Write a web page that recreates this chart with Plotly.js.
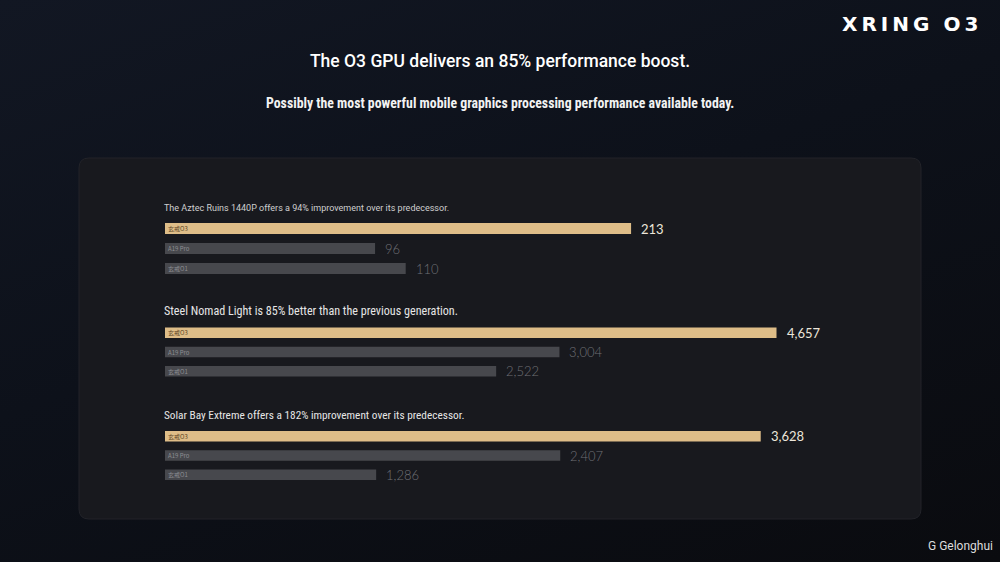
<!DOCTYPE html>
<html>
<head>
<meta charset="utf-8">
<script src="https://cdn.plot.ly/plotly-3.0.1.min.js"></script>
<style>
  html, body { margin: 0; padding: 0; width: 1000px; height: 562px; overflow: hidden;
    background: linear-gradient(160deg, #121723 0%, #0d111a 45%, #0a0b0f 100%); }
  #chart { width: 1000px; height: 562px; }
</style>
</head>
<body>
<div id="chart"></div>
<script>
// ---- data ----
const categories = ['玄戒O3', 'A19 Pro', '玄戒O1'];
const aztecRuins = [213, 96, 110];
const steelNomad = [4657, 3004, 2522];
const solarBay = [3628, 2407, 1286];
const panelTitles = [
  'The Aztec Ruins 1440P offers a 94% improvement over its predecessor.',
  'Steel Nomad Light is 85% better than the previous generation.',
  'Solar Bay Extreme offers a 182% improvement over its predecessor.'
];
const mainTitle = 'The O3 GPU delivers an 85% performance boost.';
const subTitle = 'Possibly the most powerful mobile graphics processing performance available today.';
const logoText = 'X\u2009R\u2009I\u2009N\u2009G\u2002\u2009O\u20093';
const watermark = 'G Gelonghui';

// ---- styling / layout ----
const W = 1000, H = 562;
const px = x => x / W;
const py = y => 1 - y / H;
const narrow = '"Liberation Sans Narrow", "Roboto Condensed", Roboto, sans-serif';
const panels = [
  {vals: aztecRuins, max: 319.9, top: 218.5, step: 20, title: 208, tfont: {family: 'Roboto, sans-serif', size: 9, color: '#cfcfcf'}},
  {vals: steelNomad, max: 5331, top: 322.75, step: 19.5, title: 311, tfont: {family: narrow, size: 12.1, color: '#e6e6e6'}},
  {vals: solarBay, max: 4263, top: 426.25, step: 19.5, title: 415, tfont: {family: narrow, size: 11.3, color: '#e6e6e6'}}
];
const barColors = ['#debd88', '#47484d', '#47484d'];
const innerText = ['#5a4424', '#8d8e93', '#8d8e93'];
const valueColors = ['#ece6da', '#6f7075', '#6f7075'];

const traces = [];
const annotations = [];
const layout = {
  width: W, height: H,
  margin: {l: 0, r: 0, t: 0, b: 0},
  paper_bgcolor: 'rgba(0,0,0,0)',
  plot_bgcolor: 'rgba(0,0,0,0)',
  showlegend: false,
  title: {text: mainTitle, x: 0.5, xanchor: 'center', y: py(61), yanchor: 'middle',
    font: {family: 'Roboto, sans-serif', size: 17.5, color: '#ffffff', weight: 500}},
  shapes: [],
  annotations: annotations
};

// card background (rounded rectangle in paper coords)
(function () {
  const x0 = px(79), x1 = px(921), y0 = py(519), y1 = py(158);
  const rx = 10 / W, ry = 10 / H;
  const path = `M ${x0 + rx},${y1} L ${x1 - rx},${y1} Q ${x1},${y1} ${x1},${y1 - ry} ` +
    `L ${x1},${y0 + ry} Q ${x1},${y0} ${x1 - rx},${y0} L ${x0 + rx},${y0} ` +
    `Q ${x0},${y0} ${x0},${y0 + ry} L ${x0},${y1 - ry} Q ${x0},${y1} ${x0 + rx},${y1} Z`;
  layout.shapes.push({type: 'path', xref: 'paper', yref: 'paper', path: path,
    fillcolor: '#18191e', line: {color: '#222329', width: 1}, layer: 'below'});
})();

panels.forEach((p, i) => {
  const n = i === 0 ? '' : String(i + 1);
  const xa = 'x' + n, ya = 'y' + n;
  const bottom = p.top + p.step * categories.length;
  layout['xaxis' + n] = {domain: [px(165), px(865)], range: [0, p.max], anchor: ya,
    visible: false, fixedrange: true};
  layout['yaxis' + n] = {domain: [py(bottom), py(p.top)], anchor: xa, type: 'category',
    categoryorder: 'array', categoryarray: categories, autorange: 'reversed',
    visible: false, fixedrange: true};
  traces.push({
    type: 'bar', orientation: 'h', xaxis: xa, yaxis: ya,
    x: p.vals, y: categories, width: 0.55,
    marker: {color: barColors, line: {width: 0}},
    text: categories, textposition: 'inside', insidetextanchor: 'start',
    constraintext: 'none', textangle: 0,
    textfont: {family: '"Noto Sans CJK SC", sans-serif', size: 6, color: innerText},
    hoverinfo: 'skip'
  });
  p.vals.forEach((v, j) => {
    annotations.push({xref: xa, yref: ya, x: v, y: categories[j], xanchor: 'left', yanchor: 'middle',
      xshift: 8, showarrow: false, text: v.toLocaleString('en-US'),
      font: {family: 'Lato, Roboto, sans-serif', size: 13, color: valueColors[j],
        weight: j === 0 ? 400 : 300}});
  });
  annotations.push({xref: 'paper', yref: 'paper', x: px(162), y: py(p.title), xanchor: 'left',
    yanchor: 'middle', showarrow: false, text: panelTitles[i], font: p.tfont});
});

annotations.push({xref: 'paper', yref: 'paper', x: 0.5, y: py(103), xanchor: 'center', yanchor: 'middle',
  showarrow: false, text: subTitle,
  font: {family: narrow, size: 13.8, color: '#f2f2f2', weight: 700}});
annotations.push({xref: 'paper', yref: 'paper', x: px(980), y: py(24), xanchor: 'right', yanchor: 'middle',
  showarrow: false, text: logoText,
  font: {family: '"DejaVu Sans", sans-serif', size: 20, color: '#ffffff', weight: 700}});
annotations.push({xref: 'paper', yref: 'paper', x: px(995), y: py(546), xanchor: 'right', yanchor: 'middle',
  showarrow: false, text: watermark,
  font: {family: 'Roboto, sans-serif', size: 12, color: '#dcdcdc'}});

Plotly.newPlot('chart', traces, layout, {displayModeBar: false, staticPlot: true});
</script>
</body>
</html>
